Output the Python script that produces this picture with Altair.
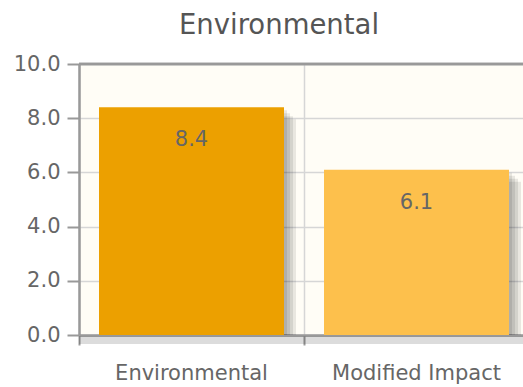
import altair as alt
import pandas as pd

# Scores shown in the chart
categories = ["Environmental", "Modified Impact"]
values = [8.4, 6.1]
bar_colors = ["#eca000", "#fdc04c"]

df = pd.DataFrame({"category": categories, "value": values, "color": bar_colors})

FONT = "DejaVu Sans"
PLOT_W = 444
PLOT_H = 271
BAND_RANGE = 450  # two categories of 225 px each; the second runs past the right edge

x_enc = alt.X(
    "category:N",
    sort=categories,
    scale=alt.Scale(range=[0, BAND_RANGE], paddingInner=0, paddingOuter=0),
    axis=alt.Axis(
        title=None,
        bandPosition=0,
        labelAngle=0,
        labelAlign="center",
        tickSize=10,
        labelPadding=17,
        grid=True,
    ),
)
y_enc = alt.Y(
    "value:Q",
    scale=alt.Scale(domain=[0, 10]),
    axis=alt.Axis(
        title=None,
        values=[0, 2, 4, 6, 8, 10],
        format=".1f",
        tickSize=12,
        labelPadding=7,
        grid=True,
    ),
)

base = alt.Chart(df)

# Drop shadows behind the bars: stacked translucent copies shifted right/down
shadow_layers = []
for k in range(1, 5):
    d = 3 * k
    shadow_layers.append(
        base.mark_bar(
            color="#000000",
            opacity=0.085,
            width=alt.RelativeBandSize(185 / 225),
            xOffset=d,
            yOffset=d,
        ).encode(x=x_enc, y=y_enc, y2=alt.datum(0))
    )

bars = base.mark_bar(width=alt.RelativeBandSize(185 / 225)).encode(
    x=x_enc,
    y=y_enc,
    color=alt.Color("color:N", scale=None),
)

labels = base.mark_text(
    font=FONT, fontSize=21, color="#666666", baseline="alphabetic", dy=39
).encode(x=x_enc, y=y_enc, text=alt.Text("value:Q", format=".1f"))

# Shadow under the bottom border of the plot
border_shadow = [
    alt.Chart(df).mark_rule(color="#000000", opacity=0.07, strokeWidth=2, yOffset=off).encode(
        x=alt.value(0), x2=alt.value("width"), y=alt.datum(0)
    )
    for off in (2, 4, 6, 8)
]

# Top border of the plot frame
top_border = alt.Chart(df).mark_rule(color="#999999", strokeWidth=2.5).encode(
    x=alt.value(0), x2=alt.value("width"), y=alt.datum(10)
)

chart = (
    alt.layer(*border_shadow, *shadow_layers, bars, labels, top_border)
    .properties(
        width=PLOT_W,
        height=PLOT_H,
        title=alt.TitleParams(
            "Environmental",
            font=FONT,
            fontSize=27.5,
            fontWeight="normal",
            color="#555555",
            dx=-22,
            offset=14,
        ),
        autosize=alt.AutoSizeParams(type="none"),
        padding={"left": 79, "top": 64, "right": 0, "bottom": 52},
    )
    .configure(background="#ffffff")
    .configure_view(fill="#fffdf6", stroke=None)
    .configure_axis(
        domainColor="#999999",
        domainWidth=2.5,
        tickColor="#999999",
        tickWidth=2,
        gridColor="#d6d6d6",
        gridWidth=1.5,
        labelColor="#666666",
        labelFont=FONT,
        labelFontSize=21,
    )
)

chart.save("out.html", embed_options={"renderer": "svg", "actions": False})
